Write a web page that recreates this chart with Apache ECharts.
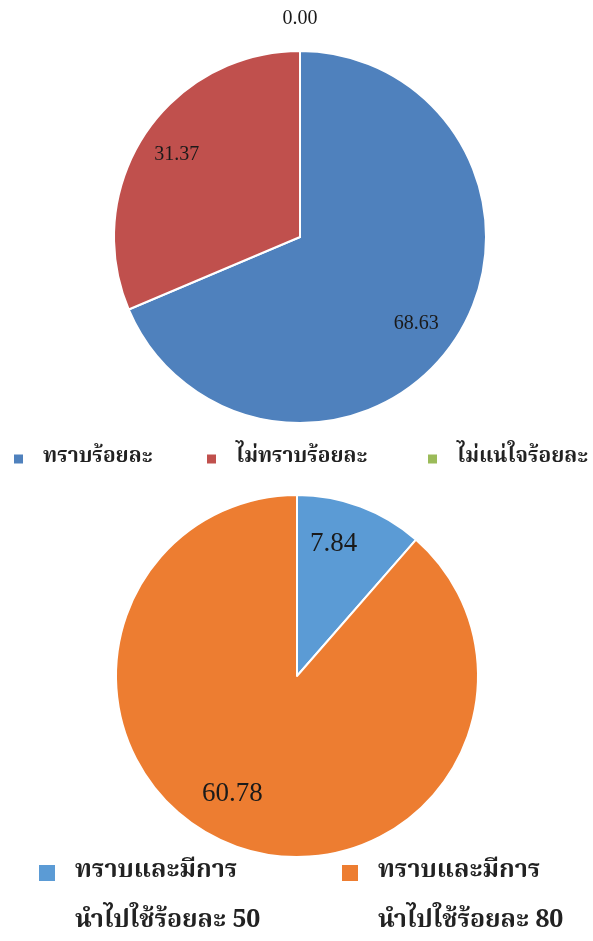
<!DOCTYPE html>
<html>
<head>
<meta charset="utf-8">
<script src="https://cdn.jsdelivr.net/npm/echarts@6/dist/echarts.min.js"></script>
<style>
  html, body { margin: 0; padding: 0; background: #ffffff; }
  #chart { width: 593px; height: 941px; }
</style>
</head>
<body>
<div id="chart"></div>
<script>
// Awareness of the measure (upper pie)
const awarenessNames = ['ทราบร้อยละ', 'ไม่ทราบร้อยละ', 'ไม่แน่ใจร้อยละ'];
const awarenessValues = [68.63, 31.37, 0.00];
const awarenessColors = ['#4f81bd', '#c0504d', '#9bbb59'];

// Awareness and application (lower pie)
const usageNames = ['ทราบและมีการ\nนำไปใช้ร้อยละ 50', 'ทราบและมีการ\nนำไปใช้ร้อยละ 80'];
const usageValues = [7.84, 60.78];
const usageColors = ['#5b9bd5', '#ed7d31'];

// small label nudges [dx, dy] in pixels
const awarenessLabelNudge = [[-7, 5], [0, 0], [0, 0]];
const usageLabelNudge = [[-12, -2], [-16, -12]];

const thaiFont = "'Noto Serif Thai', 'Noto Sans Thai', 'Loma', 'Garuda', 'Norasi', 'Tlwg Typo', 'Noto Sans', 'DejaVu Sans', sans-serif";
const numFont = "'Liberation Serif', 'DejaVu Serif', serif";

const chart = echarts.init(document.getElementById('chart'), null, { renderer: 'canvas' });

function sliceData(names, values, colors) {
  return names.map((n, i) => ({ name: n, value: values[i], itemStyle: { color: colors[i] } }));
}
function labelData(names, values) {
  return names.map((n, i) => ({ name: n, value: values[i] }));
}

// main filled slices
function mainPie(center, radius, names, values, colors) {
  return {
    type: 'pie',
    center: center,
    radius: radius,
    startAngle: 90,
    clockwise: true,
    silent: true,
    label: { show: false },
    labelLine: { show: false },
    emphasis: { disabled: true },
    itemStyle: { borderColor: '#ffffff', borderWidth: 2 },
    data: sliceData(names, values, colors)
  };
}

// transparent ring that only carries the value labels (places them near the rim)
function labelPie(center, radii, names, values, fontSize, nudge) {
  return {
    type: 'pie',
    center: center,
    radius: radii,
    startAngle: 90,
    clockwise: true,
    silent: true,
    emphasis: { disabled: true },
    itemStyle: { color: 'rgba(0,0,0,0)', borderWidth: 0 },
    labelLine: { show: false },
    label: {
      show: true,
      position: 'inside',
      formatter: p => Number(p.value).toFixed(2),
      fontFamily: numFont,
      fontSize: fontSize,
      color: '#1a1a1a'
    },
    labelLayout: function (p) {
      if (values[p.dataIndex] === 0) {
        // a zero slice gets its value written just above the rim
        return {
          x: p.rect.x + p.rect.width / 2,
          y: p.rect.y - 32,
          align: 'center',
          verticalAlign: 'middle'
        };
      }
      const n = nudge[p.dataIndex];
      return { dx: n[0], dy: n[1] };
    },
    data: labelData(names, values)
  };
}

function legendItem(name, left, top, iconW, iconH, icon, fontSize, lineHeight) {
  return {
    data: [name],
    orient: 'horizontal',
    left: left,
    top: top,
    padding: 0,
    icon: icon,
    itemWidth: iconW,
    itemHeight: iconH,
    selectedMode: false,
    textStyle: {
      fontFamily: thaiFont,
      fontSize: fontSize,
      fontWeight: 'bold',
      lineHeight: lineHeight,
      color: '#222222',
      padding: [0, 0, 0, 14]
    }
  };
}

// square marker sitting at the top of a tall item box, so it lines up with the first text line
const tallSquare = 'path://M0,0L18,0L18,18L0,18Z M0,67.9L0.1,67.9L0.1,68L0,68Z';

const topLegendLefts = [12, 205, 426];
const bottomLegendLefts = [37, 340];

const legends = [];
awarenessNames.forEach((n, i) => legends.push(legendItem(n, topLegendLefts[i], 445, 11, 11, 'rect', 21, 28)));
usageNames.forEach((n, i) => legends.push(legendItem(n, bottomLegendLefts[i], 848, 18, 68, tallSquare, 25, 50)));

chart.setOption({
  backgroundColor: '#ffffff',
  animation: false,
  legend: legends,
  series: [
    mainPie([300, 237], 186, awarenessNames, awarenessValues, awarenessColors),
    labelPie([300, 237], [104, 186], awarenessNames, awarenessValues, 20, awarenessLabelNudge),
    mainPie([297, 676], 181, usageNames, usageValues, usageColors),
    labelPie([297, 676], [90, 181], usageNames, usageValues, 27, usageLabelNudge)
  ]
});
</script>
</body>
</html>
